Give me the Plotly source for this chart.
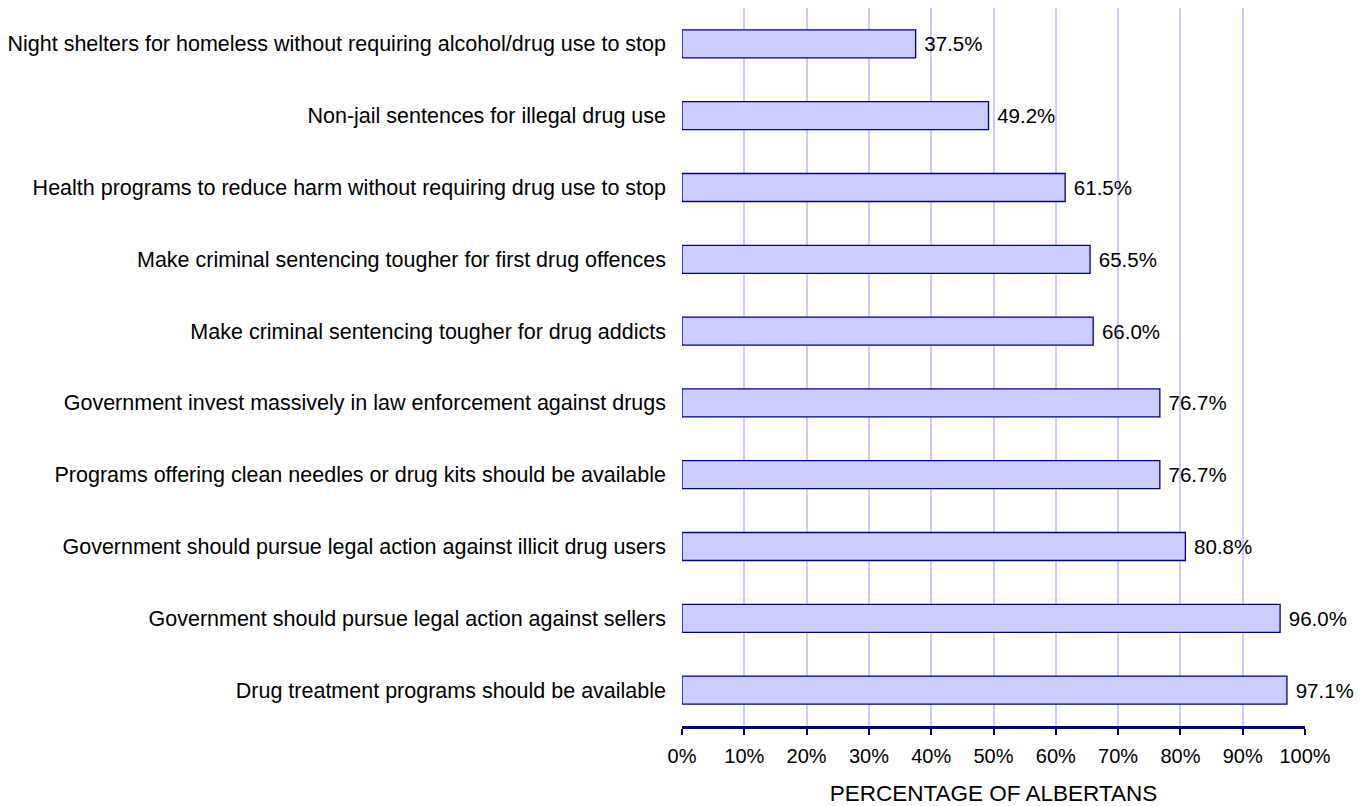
import plotly.graph_objects as go

categories = [
    "Night shelters for homeless without requiring alcohol/drug use to stop",
    "Non-jail sentences for illegal drug use",
    "Health programs to reduce harm without requiring drug use to stop",
    "Make criminal sentencing tougher for first drug offences",
    "Make criminal sentencing tougher for drug addicts",
    "Government invest massively in law enforcement against drugs",
    "Programs offering clean needles or drug kits should be available",
    "Government should pursue legal action against illicit drug users",
    "Government should pursue legal action against sellers",
    "Drug treatment programs should be available",
]
values = [37.5, 49.2, 61.5, 65.5, 66.0, 76.7, 76.7, 80.8, 96.0, 97.1]
tick_vals = [0, 10, 20, 30, 40, 50, 60, 70, 80, 90, 100]
tick_text = [f"{v}%" for v in tick_vals]

font = "Liberation Sans, Arial, sans-serif"

fig = go.Figure(go.Bar(
    x=values,
    y=categories,
    orientation="h",
    width=0.39,
    marker=dict(color="#CCCCFF", line=dict(color="#000080", width=1.3)),
    text=[f" {v:.1f}%" for v in values],
    textposition="outside",
    textfont=dict(family=font, size=20.5, color="#000000"),
    cliponaxis=False,
))

fig.update_layout(
    width=1371, height=806,
    margin=dict(l=682, r=66, t=8, b=80),
    paper_bgcolor="white", plot_bgcolor="white",
    font=dict(family=font, size=20, color="#000000"),
    showlegend=False,
    xaxis=dict(
        range=[0, 100], tickvals=tick_vals, ticktext=tick_text,
        tickfont=dict(family=font, size=20),
        showgrid=True, gridcolor="#CCCCFF", gridwidth=2,
        showline=True, linecolor="#000080", linewidth=2.5,
        ticks="outside", ticklen=6, tickcolor="#000080", tickwidth=2,
        ticklabelstandoff=4,
        zeroline=False, automargin=False,
        title=dict(text="PERCENTAGE OF ALBERTANS", standoff=20,
                   font=dict(family=font, size=22.5)),
        fixedrange=True,
    ),
    yaxis=dict(
        categoryorder="array", categoryarray=categories,
        autorange="reversed",
        tickfont=dict(family=font, size=21.5),
        showgrid=False, showline=False, zeroline=False,
        ticks="", ticklabelstandoff=15, automargin=False,
        fixedrange=True,
    ),
)

fig.write_html("out.html")
